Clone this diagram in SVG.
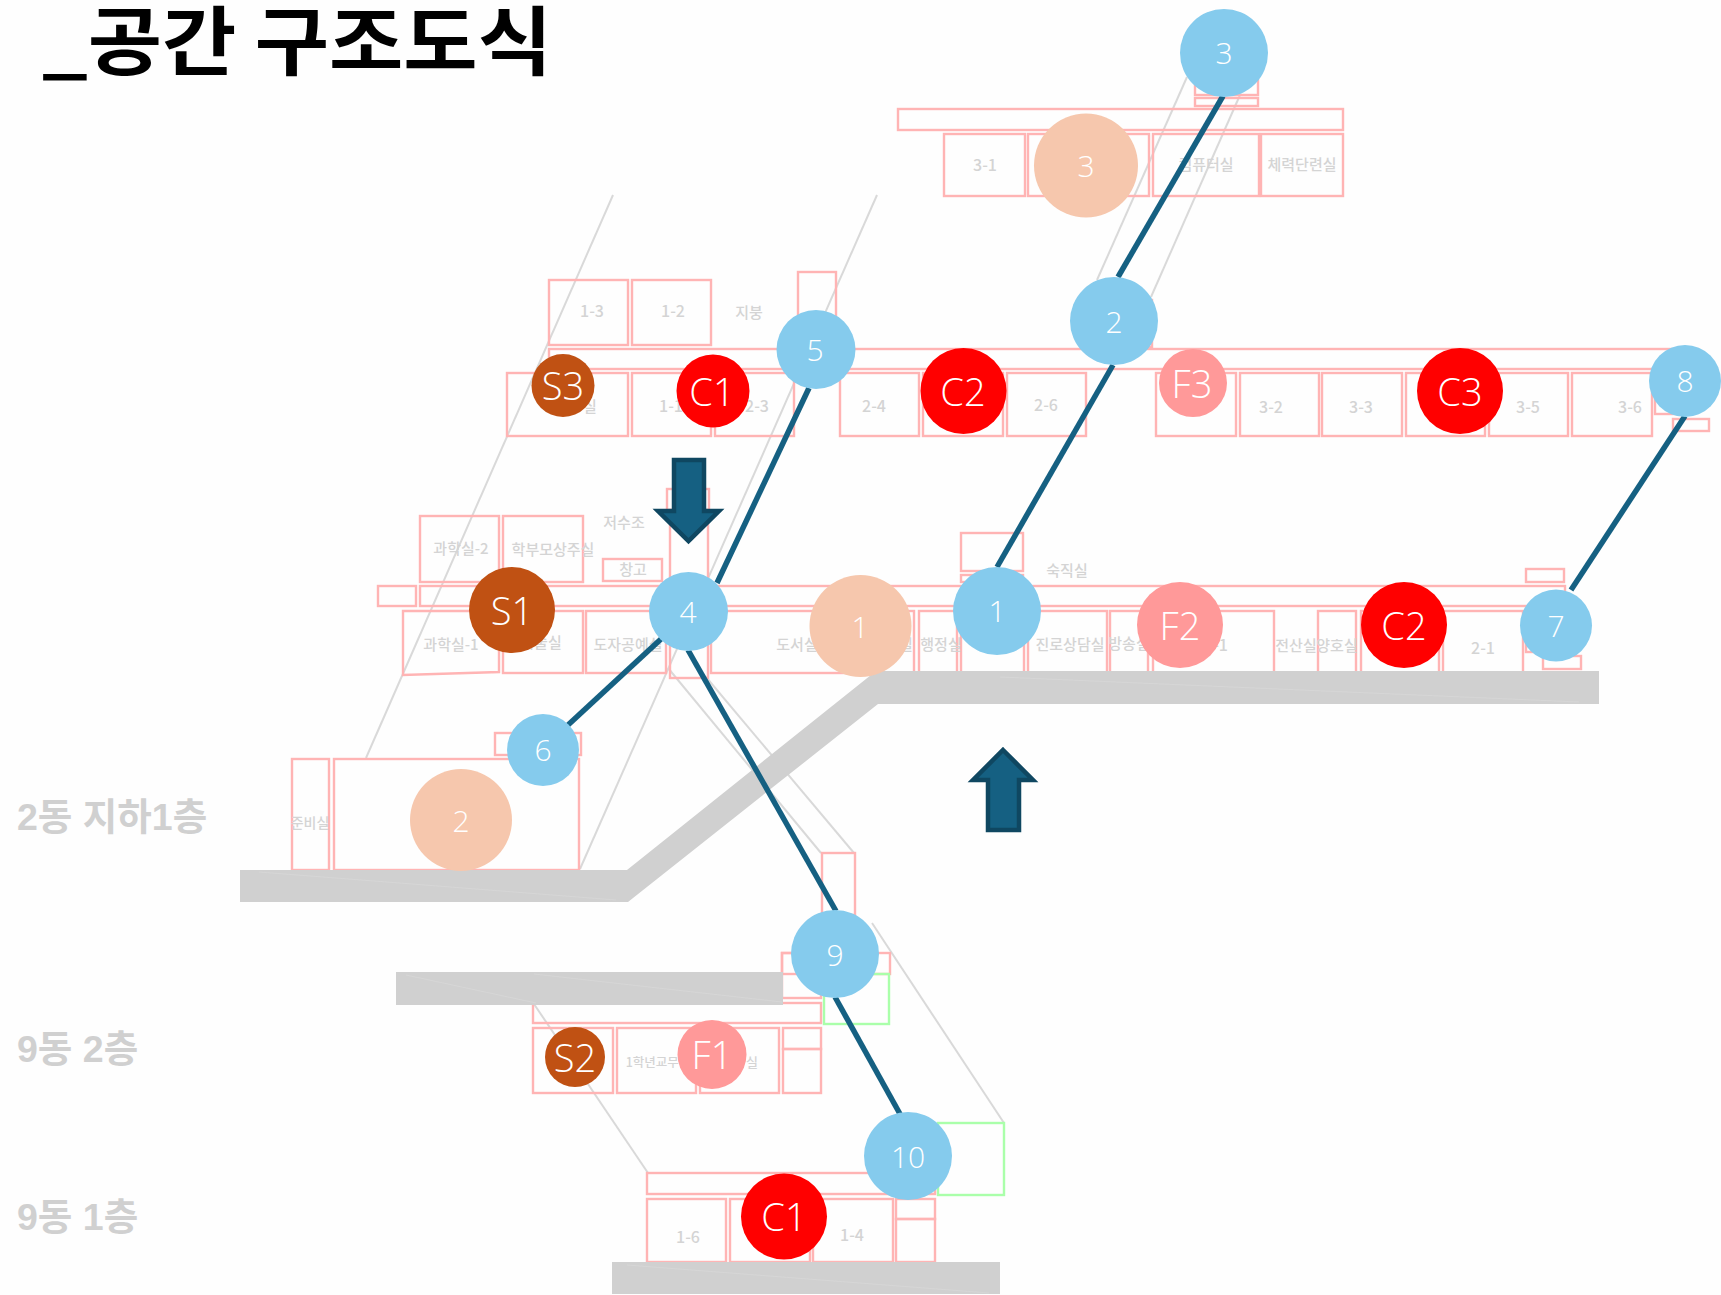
<svg xmlns="http://www.w3.org/2000/svg" width="1721" height="1295" viewBox="0 0 1721 1295">
<style>
.room{fill:none;stroke:#ffb4b4;stroke-width:2.4}
.green{fill:none;stroke:#aaffaa;stroke-width:2.4}
.ghost{fill:none;stroke:#d9d9d9;stroke-width:2}
.slab{fill:#d0d0d0}
.seam{stroke:#d6d6d6;stroke-width:1;fill:none}
.link{stroke:#156082;stroke-width:5.5;fill:none}
.arrow{fill:#156082;stroke:#0f4761;stroke-width:4.5}
.t{font-family:"Noto Sans CJK KR","Noto Sans",sans-serif;font-weight:500;fill:#d4d4d4;font-size:15px;text-anchor:middle}
.n{font-size:16px}
.floor{font-family:"Liberation Sans","Noto Sans CJK KR",sans-serif;font-weight:700;fill:#d0d0d0;font-size:37.5px}
.title{font-family:"Noto Sans CJK KR",sans-serif;font-weight:700;fill:#000;font-size:75px}
.lab{font-family:"Open Sans","Noto Sans",sans-serif;font-weight:300;fill:#fff;text-anchor:middle}
.s{font-size:30px}
.b{font-size:38px}
.blue{fill:#85cbed}
.sal{fill:#f6c7ad}
.brown{fill:#c05113}
.red{fill:#ff0000}
.pink{fill:#ff9999}
</style>
<rect width="1721" height="1295" fill="#fefefe"/>
<text id="title" class="title" x="42" y="69" textLength="510" lengthAdjust="spacingAndGlyphs">_공간 구조도식</text>
<g id="floor-labels">
<text class="floor" x="17" y="830">2동 지하1층</text>
<text class="floor" x="17" y="1062">9동 2층</text>
<text class="floor" x="17" y="1230">9동 1층</text>
</g>
<g id="guides">
<line class="ghost" x1="613" y1="195" x2="366" y2="758"/>
<line class="ghost" x1="877" y1="195" x2="580" y2="869"/>
<line class="ghost" x1="1187" y1="77" x2="1097" y2="280"/>
<line class="ghost" x1="1240" y1="95" x2="1151" y2="297"/>
<line class="ghost" x1="668" y1="668" x2="821" y2="853"/>
<line class="ghost" x1="706" y1="677" x2="854" y2="853"/>
<line class="ghost" x1="872" y1="923" x2="1004" y2="1123"/>
<line class="ghost" x1="534" y1="1004" x2="648" y2="1173"/>
</g>
<g id="floor-3-block">
<rect class="room" x="1195" y="80" width="63" height="15"/>
<rect class="room" x="1195" y="98" width="63" height="8"/>
<rect class="room" x="898" y="109" width="445" height="21"/>
<rect class="room" x="944" y="134" width="81" height="62"/>
<rect class="room" x="1028" y="134" width="121" height="62"/>
<rect class="room" x="1153" y="134" width="106" height="62"/>
<rect class="room" x="1261" y="134" width="82" height="62"/>
<text class="t n" x="985" y="171">3-1</text>
<text class="t" x="1206" y="170">컴퓨터실</text>
<text class="t" x="1302" y="170">체력단련실</text>
</g>
<g id="upper-row">
<rect class="room" x="549" y="280" width="79" height="65"/>
<rect class="room" x="632" y="280" width="79" height="65"/>
<rect class="room" x="798" y="272" width="38" height="50"/>
<rect class="room" x="1090" y="300" width="62" height="47"/>
<rect class="room" x="549" y="349" width="1131" height="20"/>
<rect class="room" x="507" y="373" width="121" height="63"/>
<rect class="room" x="632" y="373" width="79" height="63"/>
<rect class="room" x="715" y="373" width="79" height="63"/>
<rect class="room" x="840" y="373" width="79" height="63"/>
<rect class="room" x="923" y="373" width="80" height="63"/>
<rect class="room" x="1007" y="373" width="79" height="63"/>
<rect class="room" x="1156" y="373" width="80" height="63"/>
<rect class="room" x="1240" y="373" width="79" height="63"/>
<rect class="room" x="1322" y="373" width="80" height="63"/>
<rect class="room" x="1406" y="373" width="79" height="63"/>
<rect class="room" x="1489" y="373" width="79" height="63"/>
<rect class="room" x="1572" y="373" width="80" height="63"/>
<rect class="room" x="1655" y="385" width="35" height="29"/>
<rect class="room" x="1673" y="419" width="36" height="12"/>
<text class="t n" x="592" y="317">1-3</text>
<text class="t n" x="673" y="317">1-2</text>
<text class="t" x="749" y="318">지붕</text>
<text class="t" x="590" y="412">실</text>
<text class="t n" x="671" y="412">1-1</text>
<text class="t n" x="757" y="412">2-3</text>
<text class="t n" x="874" y="412">2-4</text>
<text class="t n" x="1046" y="411">2-6</text>
<text class="t n" x="1271" y="413">3-2</text>
<text class="t n" x="1361" y="413">3-3</text>
<text class="t n" x="1528" y="413">3-5</text>
<text class="t n" x="1630" y="413">3-6</text>
</g>
<g id="middle-row">
<rect class="room" x="420" y="516" width="79" height="66"/>
<rect class="room" x="503" y="516" width="80" height="66"/>
<rect class="room" x="603" y="559" width="59" height="22"/>
<rect class="room" x="667" y="489" width="42" height="21"/>
<rect class="room" x="670" y="510" width="38" height="168"/>
<rect class="room" x="961" y="533" width="62" height="38"/>
<rect class="room" x="961" y="575" width="62" height="7"/>
<rect class="room" x="1526" y="569" width="38" height="13"/>
<rect class="room" x="378" y="586" width="38" height="20"/>
<rect class="room" x="420" y="586" width="1145" height="20"/>
<polygon class="room" points="403,611 499,611 499,672 403,675"/>
<rect class="room" x="503" y="611" width="80" height="62"/>
<rect class="room" x="586" y="611" width="80" height="62"/>
<rect class="room" x="711" y="611" width="203" height="62"/>
<rect class="room" x="919" y="611" width="38" height="62"/>
<rect class="room" x="961" y="611" width="63" height="62"/>
<rect class="room" x="1028" y="611" width="79" height="62"/>
<rect class="room" x="1110" y="611" width="38" height="62"/>
<rect class="room" x="1153" y="611" width="121" height="62"/>
<rect class="room" x="1318" y="611" width="38" height="62"/>
<rect class="room" x="1361" y="611" width="78" height="62"/>
<rect class="room" x="1443" y="611" width="80" height="62"/>
<rect class="room" x="1526" y="611" width="34" height="41"/>
<rect class="room" x="1543" y="656" width="38" height="13"/>
<text class="t" x="461" y="554">과학실-2</text>
<text class="t" x="553" y="555">학부모상주실</text>
<text class="t" x="624" y="528">저수조</text>
<text class="t" x="633" y="575">창고</text>
<text class="t" x="1067" y="576">숙직실</text>
<text class="t" x="451" y="650">과학실-1</text>
<text class="t" x="541" y="648">미술실</text>
<text class="t" x="628" y="650">도자공예실</text>
<text class="t" x="797" y="650">도서실</text>
<text class="t" x="906" y="650">실</text>
<text class="t" x="941" y="650">행정실</text>
<text class="t" x="1070" y="650">진로상담실</text>
<text class="t" x="1129" y="649">방송실</text>
<text class="t n" x="1216" y="651">1-1</text>
<text class="t" x="1296" y="651">전산실</text>
<text class="t" x="1337" y="651">양호실</text>
<text class="t n" x="1483" y="654">2-1</text>
</g>
<g id="basement-block">
<rect class="room" x="292" y="759" width="37" height="111"/>
<rect class="room" x="334" y="759" width="245" height="111"/>
<rect class="room" x="495" y="733" width="86" height="22"/>
<text class="t" x="310" y="828" style="font-size:14px">준비실</text>
</g>
<g id="building-9-2f">
<rect class="room" x="822" y="853" width="33" height="62"/>
<rect class="room" x="782" y="953" width="39" height="45"/>
<rect class="room" x="782" y="953" width="108" height="21"/>
<rect class="green" x="824" y="974" width="65" height="50"/>
<rect class="room" x="533" y="1003" width="288" height="20"/>
<rect class="room" x="533" y="1028" width="80" height="65"/>
<rect class="room" x="617" y="1028" width="79" height="65"/>
<rect class="room" x="700" y="1028" width="79" height="65"/>
<rect class="room" x="783" y="1028" width="38" height="21"/>
<rect class="room" x="783" y="1049" width="38" height="44"/>
<text class="t" x="658" y="1067" style="font-size:12.5px">1학년교무실</text>
<text class="t" x="752" y="1067" style="font-size:13px">실</text>
</g>
<g id="building-9-1f">
<rect class="green" x="938" y="1123" width="66" height="72"/>
<rect class="room" x="647" y="1173" width="288" height="21"/>
<rect class="room" x="647" y="1199" width="79" height="63"/>
<rect class="room" x="730" y="1199" width="80" height="63"/>
<rect class="room" x="813" y="1199" width="80" height="63"/>
<rect class="room" x="896" y="1199" width="39" height="20"/>
<rect class="room" x="896" y="1219" width="39" height="43"/>
<text class="t n" x="688" y="1243">1-6</text>
<text class="t n" x="852" y="1241">1-4</text>
</g>
<g id="slabs">
<polygon class="slab" points="240,870 627,870 876,671 1599,671 1599,704 878,704 628,902 240,902"/>
<rect class="slab" x="396" y="972" width="387" height="33"/>
<rect class="slab" x="612" y="1262" width="388" height="32"/>
<path class="seam" d="M1000 677L1579 702M259 872L616 900M406 975L536 1003M534 974L782 1002M627 1265L989 1293"/>
</g>
<g id="connectors">
<line class="link" x1="1223" y1="96" x2="1118" y2="277"/>
<line class="link" x1="1113" y1="365" x2="997" y2="567"/>
<line class="link" x1="809" y1="388" x2="717" y2="583"/>
<line class="link" x1="1685" y1="416" x2="1571" y2="590"/>
<line class="link" x1="661" y1="639" x2="568" y2="725"/>
<line class="link" x1="688" y1="650" x2="836" y2="911"/>
<line class="link" x1="835" y1="997" x2="900" y2="1114"/>
</g>
<g id="arrow-down"><path class="arrow" d="M674 460H704V511H719L688.5 541L658 511H674Z"/></g>
<g id="arrow-up"><path class="arrow" d="M1003 750L1033 780H1019V830H988V780H973Z"/></g>
<g id="node-stop-3"><circle class="blue" cx="1224" cy="53" r="44"/><text class="lab s" x="1224" y="64">3</text></g>
<g id="node-stop-2"><circle class="blue" cx="1114" cy="321" r="44"/><text class="lab s" x="1114" y="333">2</text></g>
<g id="node-stop-5"><circle class="blue" cx="816" cy="349.5" r="39.5"/><text class="lab s" x="815" y="361">5</text></g>
<g id="node-stop-8"><circle class="blue" cx="1685" cy="381" r="36"/><text class="lab s" x="1685" y="392">8</text></g>
<g id="node-stop-4"><circle class="blue" cx="688.5" cy="611.5" r="39.5"/><text class="lab s" x="688" y="623">4</text></g>
<g id="node-stop-1"><circle class="blue" cx="997" cy="611" r="44"/><text class="lab s" x="997" y="622">1</text></g>
<g id="node-stop-7"><circle class="blue" cx="1556" cy="625.5" r="36"/><text class="lab s" x="1556" y="637">7</text></g>
<g id="node-stop-6"><circle class="blue" cx="543" cy="750" r="36"/><text class="lab s" x="543" y="761">6</text></g>
<g id="node-stop-9"><circle class="blue" cx="835" cy="954" r="44"/><text class="lab s" x="835" y="966">9</text></g>
<g id="node-stop-10"><circle class="blue" cx="908" cy="1156" r="44"/><text class="lab s" x="908" y="1168">10</text></g>
<g id="node-space-3"><circle class="sal" cx="1086" cy="165.5" r="52"/><text class="lab s" x="1086" y="177">3</text></g>
<g id="node-space-1"><circle class="sal" cx="860.5" cy="626" r="51"/><text class="lab s" x="860" y="638">1</text></g>
<g id="node-space-2"><circle class="sal" cx="461" cy="820" r="51"/><text class="lab s" x="461" y="832">2</text></g>
<g id="node-S3"><circle class="brown" cx="563" cy="385.5" r="31.5"/><text class="lab b" x="563" y="400">S3</text></g>
<g id="node-S1"><circle class="brown" cx="512" cy="610" r="43"/><text class="lab b" x="512" y="625">S1</text></g>
<g id="node-S2"><circle class="brown" cx="575" cy="1057" r="30"/><text class="lab b" x="575" y="1072">S2</text></g>
<g id="node-C1-top"><circle class="red" cx="713" cy="391" r="36.5"/><text class="lab b" x="712" y="406">C1</text></g>
<g id="node-C2-top"><circle class="red" cx="963.5" cy="391" r="43"/><text class="lab b" x="963" y="406">C2</text></g>
<g id="node-C3"><circle class="red" cx="1460" cy="391" r="43"/><text class="lab b" x="1460" y="406">C3</text></g>
<g id="node-C2-mid"><circle class="red" cx="1404" cy="625" r="43"/><text class="lab b" x="1404" y="640">C2</text></g>
<g id="node-C1-bottom"><circle class="red" cx="784" cy="1216.5" r="43"/><text class="lab b" x="784" y="1231">C1</text></g>
<g id="node-F3"><circle class="pink" cx="1193" cy="383" r="34"/><text class="lab b" x="1192" y="398">F3</text></g>
<g id="node-F2"><circle class="pink" cx="1180" cy="625" r="43"/><text class="lab b" x="1180" y="640">F2</text></g>
<g id="node-F1"><circle class="pink" cx="712" cy="1054.5" r="34.5"/><text class="lab b" x="712" y="1069">F1</text></g>
</svg>
